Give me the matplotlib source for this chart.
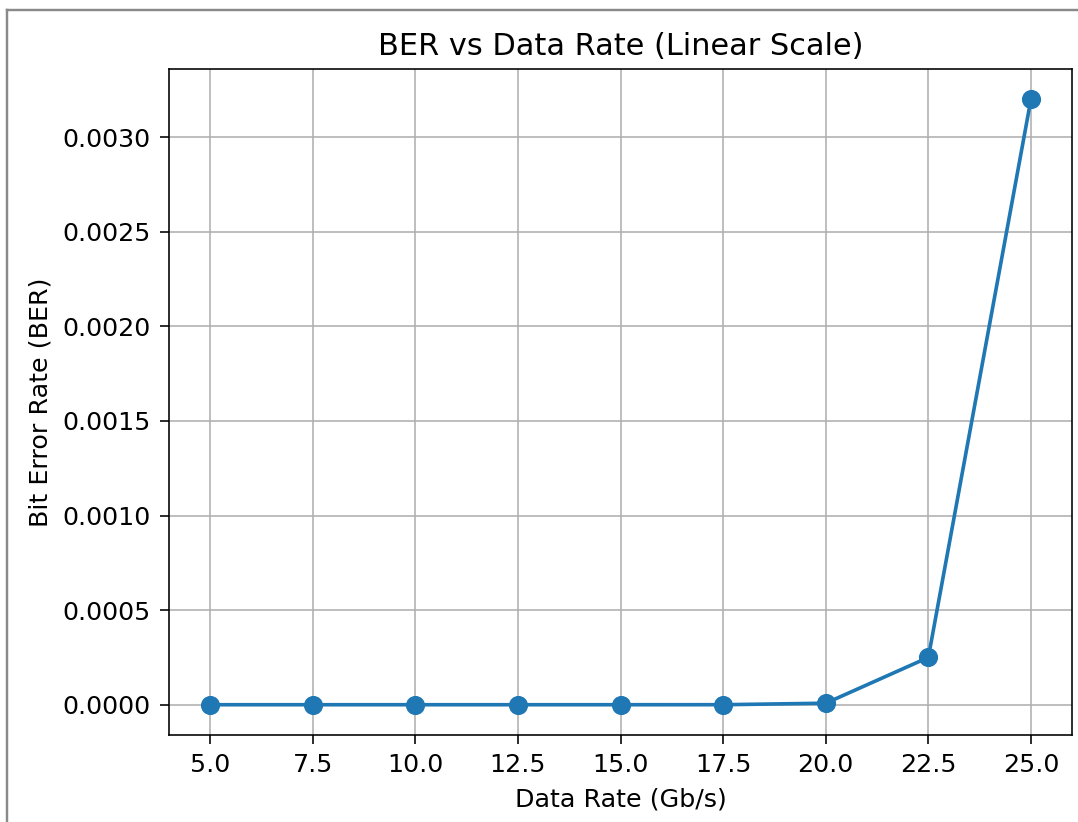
import matplotlib
matplotlib.use("Agg")
import matplotlib.pyplot as plt
from matplotlib.lines import Line2D

data_rate = [5.0, 7.5, 10.0, 12.5, 15.0, 17.5, 20.0, 22.5, 25.0]
ber = [1e-12, 1e-11, 1e-10, 1e-9, 1e-8, 1e-7, 8e-6, 2.5e-4, 3.2e-3]

DPI = 145
plt.rcParams['font.size'] = 12.6
fig = plt.figure(figsize=(1078 / DPI, 822 / DPI), dpi=DPI)
ax = fig.add_axes([169 / 1078, 1 - 735 / 822, (1072 - 169) / 1078, (735 - 69) / 822])

ax.plot(data_rate, ber, marker='o', markersize=8.5, color='#1f77b4', linewidth=1.8)
ax.set_title('BER vs Data Rate (Linear Scale)', fontsize=15.1, pad=7)
ax.set_xlabel('Data Rate (Gb/s)', labelpad=5)
ax.set_ylabel('Bit Error Rate (BER)', labelpad=5)
ax.tick_params(length=4.5, pad=4.5)
ax.grid(True)

# notebook cell border (screenshot frame)
fig.add_artist(Line2D([7 / 1078, 7 / 1078], [0, 1 - 10 / 822], transform=fig.transFigure,
                      color='#8a8a8a', linewidth=1.2))
fig.add_artist(Line2D([7 / 1078, 1], [1 - 10 / 822, 1 - 10 / 822], transform=fig.transFigure,
                      color='#8a8a8a', linewidth=1.2))

fig.savefig('out.png', dpi=DPI)
